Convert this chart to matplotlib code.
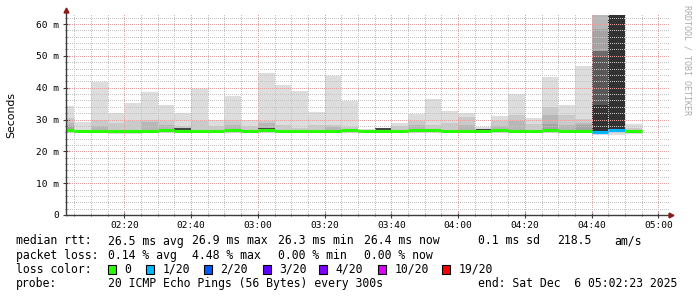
"""SmokePing style latency graph (median rtt + smoke) for the last 3 hours."""
import numpy as np
import matplotlib
matplotlib.use("Agg")
import matplotlib.pyplot as plt
from matplotlib.patches import Rectangle
from matplotlib.ticker import FixedLocator, FuncFormatter

W, H = 697, 297
nan = np.nan

# 5-minute polling slots, minutes after midnight (02:00 ... 04:50)
slot_start = np.arange(120, 295, 5)
t_begin, t_end = 122 + 23 / 60, 302 + 23 / 60      # 02:02:23 .. 05:02:23

# median rtt per slot (ms)
rtt_median = [26.7, 26.4, 26.4, 26.4, 26.3, 26.5, 26.8, 26.4, 26.4, 26.4,
              26.8, 26.4, 26.7, 26.5, 26.5, 26.4, 26.4, 26.6, 26.3, 26.4,
              26.5, 26.6, 26.8, 26.5, 26.5, 26.3, 26.8, 26.5, 26.5, 26.7,
              26.5, 26.5, 26.2, 26.6, 26.4]
# fastest / slowest ping per slot (outer smoke)
rtt_min = [25.9, 25.9, 25.8, 25.3, 25.3, 25.9, 25.9, 25.9, 25.9, 25.9,
           25.9, 25.9, 25.9, 25.9, 25.9, 25.9, 25.9, 25.9, 25.7, 25.9,
           25.9, 25.9, 25.9, 25.8, 25.9, 25.9, 25.9, 25.9, 25.8, 25.9,
           25.9, 25.9, 25.2, 25.2, 25.5]
rtt_max = [34.2, 29.2, 41.9, 32.2, 35.1, 38.6, 34.5, 32.1, 39.6, 29.8,
           37.4, 30.0, 44.5, 40.8, 39.0, 32.4, 43.7, 35.9, 27.0, 27.2,
           29.0, 31.7, 36.3, 32.7, 32.0, 27.8, 31.1, 38.0, 30.6, 43.4,
           34.5, 46.7, 62.8, 62.8, 28.6]
# inner smoke bands (upper edge), nan = hidden under the median line
smoke_2 = [30.5, nan, 30.0, 28.8, 29.6, 30.0, 29.4, 28.0, 29.5, 28.0,
           30.0, 28.0, 29.6, 28.2, 27.3, 28.2, 28.2, 27.5, nan, nan,
           28.0, 29.6, 28.2, 28.8, 30.8, nan, 29.6, 31.3, 28.6, 33.8,
           31.3, 30.3, 62.8, 62.8, 27.3]
smoke_3 = [28.8, nan, 28.1, nan, nan, 29.2, 28.2, nan, nan, nan,
           28.2, nan, 28.9, nan, nan, nan, 27.8, nan, nan, nan,
           nan, 28.2, nan, nan, 28.2, nan, 28.0, 29.5, nan, 31.3,
           28.4, 28.8, 62.8, 62.8, nan]
smoke_4 = [28.1, nan, nan, nan, nan, nan, nan, nan, nan, nan,
           nan, nan, nan, nan, nan, nan, nan, nan, nan, nan,
           nan, nan, nan, nan, nan, nan, nan, nan, nan, 28.6,
           nan, 28.2, 58.4, 62.8, nan]
smoke_7 = [nan] * 32 + [51.6, 62.8, nan]
smoke_8 = [nan] * 32 + [49.6, 62.8, nan]
smoke_9 = [nan] * 7 + [27.2] + [nan] * 4 + [27.3] + [nan] * 6 + [27.2] \
    + [nan] * 5 + [27.0] + [nan] * 9
smoke_10 = [nan] * 32 + [34.5, 62.8, nan]
loss_pings = [0] * 32 + [1, 1, 0]

loss_levels = [0, 1, 2, 3, 4, 10, 19]
loss_labels = ["0", "1/20", "2/20", "3/20", "4/20", "10/20", "19/20"]
loss_colors = ["#26ff00", "#00b8ff", "#0059ff", "#5e00ff", "#7e00ff",
               "#dd00ff", "#ff0000"]

stats_rtt = ["26.5 ms avg", "26.9 ms max", "26.3 ms min", "26.4 ms now",
             "0.1 ms sd", "218.5", "am/s"]
stats_loss = ["0.14 % avg", "4.48 % max", "0.00 % min", "0.00 % now"]
probe_text = "20 ICMP Echo Pings (56 Bytes) every 300s"
end_text = "end: Sat Dec  6 05:02:23 2025"

MONO = "DejaVu Sans Mono"
plt.rcParams["font.family"] = MONO


def px(x):
    return x / W


def py(y):
    return 1 - y / H


fig = plt.figure(figsize=(W / 100, H / 100), dpi=100)
fig.patch.set_facecolor("white")
ax = fig.add_axes([px(65.5), py(215), px(666.3) - px(65.5), py(14) - py(215)])
ax.set_facecolor("white")
y_top = 63.15
ax.set_xlim(t_begin, t_end)
ax.set_ylim(0, y_top)

# smoke, outer band first, darker bands stacked on top
med = np.array(rtt_median)
ax.bar(slot_start, np.array(rtt_max) - np.array(rtt_min), bottom=rtt_min,
       width=5, align="edge", color="#dddddd", lw=0, antialiased=False,
       zorder=1)
for band, c in [(smoke_2, "#cacaca"), (smoke_3, "#b7b7b7"),
                (smoke_4, "#a4a4a4"), (smoke_7, "#6b6b6b"),
                (smoke_8, "#585858"), (smoke_9, "#454545"),
                (smoke_10, "#323232")]:
    band = np.array(band, dtype=float)
    ok = ~np.isnan(band)
    ax.bar(slot_start[ok], band[ok] - med[ok], bottom=med[ok], width=5,
           align="edge", color=c, lw=0, antialiased=False, zorder=1)

# grid (drawn over the smoke, like rrdtool)
dot = dict(ls=(0, (1, 2)), lw=0.72, antialiased=False, zorder=2)
for m in range(125, 305, 5):
    ax.axvline(m, color="#e3a0a0" if m % 20 == 0 else "#c4c4c4", **dot)
for v in range(2, 64, 2):
    ax.plot([0, 1.005], [v, v], transform=ax.get_yaxis_transform(),
            clip_on=False, color="#e3a0a0" if v % 10 == 0 else "#c4c4c4",
            **dot)

# median line coloured by packet loss
ax.hlines(rtt_median, slot_start, slot_start + 5,
          colors=[loss_colors[loss_levels.index(l)] for l in loss_pings],
          lw=2.2, zorder=4)

# axes with rrdtool arrows
for s in ax.spines.values():
    s.set_visible(False)
axc = "#3c3c3c"
ax.plot([0, 1.006], [0, 0], transform=ax.transAxes, clip_on=False,
        color=axc, lw=1, zorder=5)
ax.plot([0, 0], [0, 1.015], transform=ax.transAxes, clip_on=False,
        color=axc, lw=1, zorder=5)
ax.plot([1.007], [0], ">", transform=ax.transAxes, clip_on=False,
        color="#8b1a1a", ms=3.5, zorder=6)
ax.plot([0], [1.018], "^", transform=ax.transAxes, clip_on=False,
        color="#8b1a1a", ms=3.5, zorder=6)

ax.xaxis.set_major_locator(FixedLocator(range(140, 301, 20)))
ax.xaxis.set_minor_locator(FixedLocator(range(125, 301, 5)))
ax.xaxis.set_major_formatter(
    FuncFormatter(lambda m, _: f"{int(m) // 60:02d}:{int(m) % 60:02d}"))
ax.yaxis.set_major_locator(FixedLocator(range(0, 61, 10)))
ax.yaxis.set_minor_locator(FixedLocator(range(2, 63, 2)))
ax.yaxis.set_major_formatter(
    FuncFormatter(lambda v, _: "0" if v == 0 else f"{int(v)} m"))
ax.tick_params(which="major", direction="inout", length=4, width=0.8,
               color=axc, labelsize=6.8, pad=2.5)
ax.tick_params(which="minor", direction="inout", length=2, width=0.6,
               color=axc)
ax.tick_params(axis="y", pad=2.6)

fig.text(px(11), py(114.5), "Seconds", rotation=90, ha="center",
         va="center", fontsize=7.8, family="DejaVu Sans")
fig.text(px(686.5), py(5), "RRDTOOL / TOBI OETIKER", rotation=270,
         ha="center", va="top", fontsize=6, color="#ababab")

# legend block
fs = 8.3
cols = [107.5, 192, 278, 364, 478, 557, 614]
fig.text(px(16), py(241), "median rtt:", fontsize=fs, va="center")
for s, x in zip(stats_rtt, cols):
    fig.text(px(x), py(241), s, fontsize=fs, va="center")
fig.text(px(16), py(255.5), "packet loss:", fontsize=fs, va="center")
for s, x in zip(stats_loss, cols):
    fig.text(px(x), py(255.5), s, fontsize=fs, va="center")
fig.text(px(16), py(269.5), "loss color:", fontsize=fs, va="center")
box_x = [108, 146, 204, 263, 319, 378, 442]
for lab, c, x in zip(loss_labels, loss_colors, box_x):
    fig.patches.append(Rectangle((px(x), py(274)), px(8), py(265) - py(274),
                                 transform=fig.transFigure, facecolor=c,
                                 edgecolor="black", lw=0.8))
    fig.text(px(x + 16.5), py(269.5), lab, fontsize=fs, va="center")
fig.text(px(16), py(283.5), "probe:", fontsize=fs, va="center")
fig.text(px(107.5), py(283.5), probe_text, fontsize=fs, va="center")
fig.text(px(478), py(283.5), end_text, fontsize=fs, va="center")

fig.savefig("out.png", dpi=100, facecolor="white")
